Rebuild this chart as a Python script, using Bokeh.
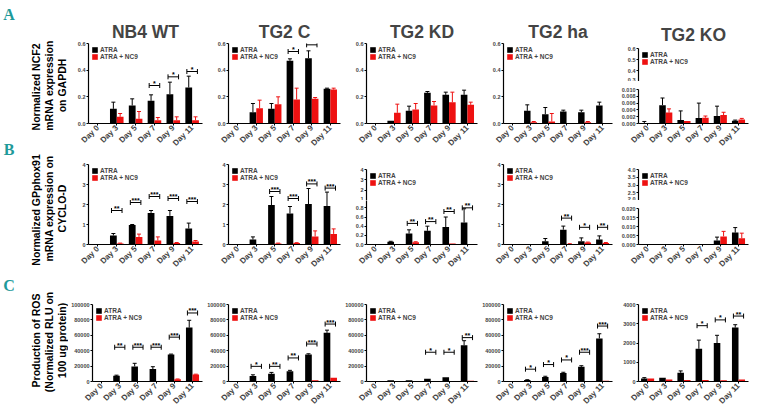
import numpy as np
from math import pi
from bokeh.plotting import figure
from bokeh.layouts import row, column
from bokeh.models import Range1d, FixedTicker, ColumnDataSource, Legend, LegendItem, PrintfTickFormatter
from bokeh.core.properties import value
from bokeh.embed import file_html
from bokeh.resources import INLINE

FONT = "Liberation Sans"
BLACK = "#000000"
RED = "#ee1111"
TEAL = "#1f9a9a"

days = ["Day 0", "Day 3", "Day 5", "Day 7", "Day 9", "Day 11"]
titles = ["NB4 WT", "TG2 C", "TG2 KD", "TG2 ha", "TG2 KO"]
legend_labels = ["ATRA", "ATRA + NC9"]

# ---------------- Row A : NCF2 ----------------
a_wt_atra = [0.002, 0.11, 0.135, 0.17, 0.22, 0.27]
a_wt_atra_err = [0, 0.05, 0.05, 0.045, 0.09, 0.085]
a_wt_nc9 = [0.001, 0.05, 0.035, 0.025, 0.025, 0.025]
a_wt_nc9_err = [0, 0.025, 0.055, 0.02, 0.025, 0.025]
a_wt_sig_day = [3, 4, 5]
a_wt_sig_y = [0.285, 0.35, 0.39]
a_wt_sig_txt = ["*", "*", "*"]

a_c_atra = [0.002, 0.085, 0.11, 0.47, 0.49, 0.26]
a_c_atra_err = [0, 0.065, 0.04, 0.015, 0.055, 0.005]
a_c_nc9 = [0.003, 0.115, 0.145, 0.18, 0.185, 0.255]
a_c_nc9_err = [0, 0.06, 0.055, 0.085, 0.01, 0.01]
a_c_sig_day = [3, 4]
a_c_sig_y = [0.54, 0.59]
a_c_sig_txt = ["*", "*"]

a_kd_atra = [0.001, 0.02, 0.095, 0.23, 0.215, 0.215]
a_kd_atra_err = [0, 0, 0.035, 0.01, 0.02, 0.035]
a_kd_nc9 = [0.002, 0.08, 0.105, 0.135, 0.16, 0.14]
a_kd_nc9_err = [0, 0.065, 0.045, 0.03, 0.075, 0.02]

a_ha_atra = [0.002, 0.095, 0.07, 0.09, 0.085, 0.135]
a_ha_atra_err = [0, 0.045, 0.05, 0.01, 0.015, 0.025]
a_ha_nc9 = [0.0, 0.01, 0.015, 0.002, 0.01, 0.002]
a_ha_nc9_err = [0, 0.005, 0.06, 0, 0.005, 0]

a_ko_atra = [0.0001, 0.0054, 0.001, 0.0016, 0.0022, 0.0008]
a_ko_atra_err = [0.0005, 0.0021, 0.0027, 0.0044, 0.0029, 0.0002]
a_ko_nc9 = [0.0, 0.0032, 0.0007, 0.0017, 0.0025, 0.0012]
a_ko_nc9_err = [0, 0.0011, 0, 0.0005, 0.0008, 0.0003]

# ---------------- Row B : GPphox91 ----------------
b_wt_atra = [0, 0.45, 0.97, 1.58, 1.43, 0.8]
b_wt_atra_err = [0, 0.1, 0.03, 0.12, 0.27, 0.27]
b_wt_nc9 = [0, 0.05, 0.38, 0.2, 0.08, 0.15]
b_wt_nc9_err = [0, 0.02, 0.14, 0.18, 0.02, 0.05]
b_wt_sig_day = [1, 2, 3, 4, 5]
b_wt_sig_y = [1.7, 2.1, 2.4, 2.3, 2.15]
b_wt_sig_txt = ["**", "***", "***", "***", "***"]

b_c_atra = [0, 0.25, 1.97, 1.55, 2.02, 1.92]
b_c_atra_err = [0, 0.13, 0.43, 0.35, 0.78, 0.7]
b_c_nc9 = [0, 0.02, 0.05, 0.07, 0.4, 0.53]
b_c_nc9_err = [0, 0, 0.02, 0.02, 0.28, 0.25]
b_c_sig_day = [2, 3, 4, 5]
b_c_sig_y = [2.65, 2.3, 3.03, 2.82]
b_c_sig_txt = ["***", "***", "***", "***"]

b_kd_atra = [0, 0.06, 0.24, 0.3, 0.38, 0.48]
b_kd_atra_err = [0, 0.01, 0.08, 0.1, 0.22, 0.3]
b_kd_nc9 = [0, 0.002, 0.05, 0.01, 0.02, 0.005]
b_kd_nc9_err = [0, 0, 0.01, 0, 0, 0]
b_kd_sig_day = [2, 3, 4, 5]
b_kd_sig_y = [0.46, 0.5, 0.72, 0.8]
b_kd_sig_txt = ["**", "**", "**", "**"]

b_ha_atra = [0, 0.02, 0.16, 0.74, 0.16, 0.25]
b_ha_atra_err = [0, 0, 0.14, 0.18, 0.17, 0.18]
b_ha_nc9 = [0, 0, 0, 0.03, 0.1, 0.08]
b_ha_nc9_err = [0, 0, 0, 0.01, 0.02, 0.02]
b_ha_sig_day = [3, 4, 5]
b_ha_sig_y = [1.32, 0.86, 0.86]
b_ha_sig_txt = ["**", "*", "**"]

b_ko_atra = [0, 0.0001, 0, 0.0002, 0.0022, 0.0066]
b_ko_atra_err = [0, 0, 0, 0, 0.0019, 0.0028]
b_ko_nc9 = [0, 0, 0, 0, 0.0045, 0.0035]
b_ko_nc9_err = [0, 0, 0, 0, 0.0028, 0.0028]

# ---------------- Row C : ROS ----------------
c_wt_atra = [500, 7400, 19600, 16200, 35000, 70000]
c_wt_atra_err = [0, 800, 4000, 3000, 600, 9500]
c_wt_nc9 = [0, 0, 0, 0, 3000, 9200]
c_wt_nc9_err = [0, 0, 0, 0, 300, 300]
c_wt_sig_day = [1, 2, 3, 4, 5]
c_wt_sig_y = [44500, 44500, 44500, 57600, 89000]
c_wt_sig_txt = ["**", "***", "***", "***", "***"]

c_c_atra = [600, 7000, 10000, 13200, 35100, 63200]
c_c_atra_err = [0, 1700, 1800, 1300, 900, 3500]
c_c_nc9 = [0, 0, 0, 0, 1500, 5000]
c_c_nc9_err = [0, 0, 0, 0, 0, 0]
c_c_sig_day = [1, 2, 3, 4, 5]
c_c_sig_y = [19700, 19700, 30600, 48700, 74600]
c_c_sig_txt = ["*", "**", "**", "***", "***"]

c_kd_atra = [800, 1500, 1500, 3500, 5500, 47000]
c_kd_atra_err = [0, 0, 0, 0, 0, 6000]
c_kd_nc9 = [300, 300, 300, 300, 300, 1000]
c_kd_nc9_err = [0, 0, 0, 0, 0, 0]
c_kd_sig_day = [3, 4, 5]
c_kd_sig_y = [38000, 38000, 57000]
c_kd_sig_txt = ["*", "*", "**"]

c_ha_atra = [500, 2000, 6000, 11000, 19000, 56000]
c_ha_atra_err = [0, 300, 800, 1000, 1500, 6000]
c_ha_nc9 = [0, 0, 0, 0, 0, 1000]
c_ha_nc9_err = [0, 0, 0, 0, 0, 0]
c_ha_sig_day = [1, 2, 3, 4, 5]
c_ha_sig_y = [16000, 22000, 28000, 38000, 72000]
c_ha_sig_txt = ["*", "*", "*", "***", "***"]

c_ko_atra = [150, 200, 450, 1700, 2000, 2800]
c_ko_atra_err = [50, 0, 100, 450, 400, 150]
c_ko_nc9 = [150, 100, 80, 80, 60, 100]
c_ko_nc9_err = [0, 0, 0, 0, 0, 0]
c_ko_sig_day = [3, 4, 5]
c_ko_sig_y = [2900, 3200, 3400]
c_ko_sig_txt = ["*", "*", "**"]

ylabels_a = ["Normalized  NCF2", "mRNA expression", "on GAPDH"]
ylabels_b = ["Normalized  GPphox91", "mRNA expression on", "CYCLO-D"]
ylabels_c = ["Production of ROS", "(Normalized  RLU on", "100 ug protein)"]
row_letters = ["A", "B", "C"]


def style_axis(ax, size):
    ax.axis_line_color = "black"
    ax.axis_line_width = 1.2
    ax.major_tick_line_color = "black"
    ax.major_tick_out = 2
    ax.major_tick_in = 0
    ax.minor_tick_line_color = None
    ax.major_label_text_font = FONT
    ax.major_label_text_font_style = "bold"
    ax.major_label_text_font_size = size
    ax.major_label_standoff = 1


def panel(width, height, left, top, bottom, yr, yticks, fmt, data, sig=None,
          title=None, title_standoff=3, xaxis=True, legend=True):
    p = figure(width=width, height=height, x_range=Range1d(-0.5, 5.55),
               y_range=Range1d(*yr), output_backend="svg", toolbar_location=None,
               min_border_left=left, min_border_right=2, min_border_top=top,
               min_border_bottom=bottom,
               x_axis_location="below" if xaxis else None)
    p.outline_line_color = None
    p.xgrid.visible = False
    p.ygrid.visible = False
    if title:
        p.title.text = title
        p.title.align = "center"
        p.title.text_font = FONT
        p.title.text_font_style = "bold"
        p.title.text_font_size = "17.5px"
        p.title.standoff = title_standoff
    atra, atra_err, nc9, nc9_err = data
    x = np.arange(len(days))
    rends = []
    for off, vals, errs, col in [(-0.18, atra, atra_err, BLACK), (0.18, nc9, nc9_err, RED)]:
        xp = x + off
        vals = np.array(vals, dtype=float)
        errs = np.array(errs, dtype=float)
        src = ColumnDataSource(dict(x=xp, top=vals))
        r = p.vbar(x="x", top="top", bottom=0, width=0.36, source=src,
                   fill_color=col, line_color=None)
        m = errs > 0
        esrc = ColumnDataSource(dict(x=xp[m], y0=vals[m], y1=(vals + errs)[m]))
        p.segment(x0="x", y0="y0", x1="x", y1="y1", source=esrc, line_color=col, line_width=1)
        p.scatter(x="x", y="y1", source=esrc, marker="dash", size=4, line_color=col, line_width=1)
        rends.append(r)
    if sig is not None:
        sd, sy, st = sig
        sd = np.array(sd, dtype=float)
        s = ColumnDataSource(dict(x0=sd - 0.28, x1=sd + 0.28, xc=sd, y=sy, t=st))
        p.segment(x0="x0", y0="y", x1="x1", y1="y", source=s, line_color="black", line_width=1)
        for k in ("x0", "x1"):
            p.scatter(x=k, y="y", source=s, marker="dash", angle=pi / 2, size=5,
                      line_color="black", line_width=1)
        p.text(x="xc", y="y", text="t", source=s, text_font=value(FONT),
               text_font_style="bold", text_font_size="7px", text_align="center",
               text_baseline="bottom", y_offset=1.5, text_color="black")
    p.yaxis.ticker = FixedTicker(ticks=yticks)
    p.yaxis.formatter = PrintfTickFormatter(format=fmt)
    style_axis(p.yaxis[0], "5.5px")
    if xaxis:
        p.xaxis.ticker = FixedTicker(ticks=list(range(len(days))))
        p.xaxis.major_label_overrides = {i: d for i, d in enumerate(days)}
        p.xaxis.major_label_orientation = pi / 4
        style_axis(p.xaxis[0], "8px")
    if legend:
        lg = Legend(items=[LegendItem(label=legend_labels[0], renderers=[rends[0]]),
                           LegendItem(label=legend_labels[1], renderers=[rends[1]])],
                    location="top_left")
        lg.label_text_font = FONT
        lg.label_text_font_style = "bold"
        lg.label_text_font_size = "6.5px"
        lg.glyph_width = 7
        lg.glyph_height = 7
        lg.label_height = 7
        lg.label_standoff = 2
        lg.spacing = 0
        lg.padding = 0
        lg.margin = 3
        lg.background_fill_alpha = 0
        lg.border_line_color = None
        p.add_layout(lg)
    return p


W0 = 68
H = 415
widths = [136, 138, 137, 135, 136]
lefts = [20, 24, 24, 24, 24]

# ---- left strip: row letters and y-axis titles (data coords: x = page x, y = -page y)
lab = figure(width=W0, height=H, x_range=Range1d(0, W0), y_range=Range1d(-H, 0),
             output_backend="svg", toolbar_location=None, min_border=0,
             x_axis_location=None, y_axis_location=None)
lab.outline_line_color = None
lab.xgrid.visible = False
lab.ygrid.visible = False
lab.text(x=[8.5, 8.5, 8.5], y=[-14, -149, -285], text=row_letters,
         text_font=value("Liberation Sans Narrow"), text_font_style="bold",
         text_font_size="16px", text_color=TEAL, text_align="center", text_baseline="middle")
for lines, xs, yc in [(ylabels_a, [35, 48, 61], 85),
                      (ylabels_b, [35, 48, 61], 208),
                      (ylabels_c, [35, 48, 61], 340)]:
    lab.text(x=xs, y=[-yc] * 3, text=lines, angle=pi / 2,
             text_font=value(FONT), text_font_style="bold", text_font_size="10.5px",
             text_color="black", text_align="center", text_baseline="middle")

# Row A  (page y 0..155, frame 43..123)
a_tick = [0, 0.2, 0.4, 0.6]
pa = [
    panel(widths[0], 155, lefts[0], 43, 32, (0, 0.6), a_tick, "%.1f",
          (a_wt_atra, a_wt_atra_err, a_wt_nc9, a_wt_nc9_err),
          (a_wt_sig_day, a_wt_sig_y, a_wt_sig_txt), title=titles[0]),
    panel(widths[1], 155, lefts[1], 43, 32, (0, 0.6), a_tick, "%.1f",
          (a_c_atra, a_c_atra_err, a_c_nc9, a_c_nc9_err),
          (a_c_sig_day, a_c_sig_y, a_c_sig_txt), title=titles[1]),
    panel(widths[2], 155, lefts[2], 43, 32, (0, 0.6), a_tick, "%.1f",
          (a_kd_atra, a_kd_atra_err, a_kd_nc9, a_kd_nc9_err), title=titles[2]),
    panel(widths[3], 155, lefts[3], 43, 32, (0, 0.6), a_tick, "%.1f",
          (a_ha_atra, a_ha_atra_err, a_ha_nc9, a_ha_nc9_err), title=titles[3]),
]
a_ko_data = (a_ko_atra, a_ko_atra_err, a_ko_nc9, a_ko_nc9_err)
pa5 = column(
    panel(widths[4], 81, lefts[4], 48, 0, (0.3, 0.6), [0.3, 0.4, 0.5, 0.6], "%.1f",
          a_ko_data, title=titles[4], title_standoff=8, xaxis=False),
    panel(widths[4], 74, lefts[4], 8, 32, (0, 0.010),
          [0, 0.002, 0.004, 0.006, 0.008, 0.010], "%.3f", a_ko_data, legend=False),
)
row_a = row(*pa, pa5)

# Row B  (page y 155..290, frame 164..244)
b_tick = [0, 1, 2, 3, 4]
b_kd_data = (b_kd_atra, b_kd_atra_err, b_kd_nc9, b_kd_nc9_err)
b_ko_data = (b_ko_atra, b_ko_atra_err, b_ko_nc9, b_ko_nc9_err)
pb = [
    panel(widths[0], 135, lefts[0], 9, 46, (0, 4), b_tick, "%d",
          (b_wt_atra, b_wt_atra_err, b_wt_nc9, b_wt_nc9_err),
          (b_wt_sig_day, b_wt_sig_y, b_wt_sig_txt)),
    panel(widths[1], 135, lefts[1], 9, 46, (0, 4), b_tick, "%d",
          (b_c_atra, b_c_atra_err, b_c_nc9, b_c_nc9_err),
          (b_c_sig_day, b_c_sig_y, b_c_sig_txt)),
    column(
        panel(widths[2], 45, lefts[2], 14, 0, (1, 4), [1, 2, 3, 4], "%d",
              b_kd_data, xaxis=False),
        panel(widths[2], 90, lefts[2], 0, 46, (0, 0.96), [0, 0.2, 0.4, 0.6, 0.8], "%.1f",
              b_kd_data, (b_kd_sig_day, b_kd_sig_y, b_kd_sig_txt), legend=False),
    ),
    panel(widths[3], 135, lefts[3], 9, 46, (0, 4), b_tick, "%d",
          (b_ha_atra, b_ha_atra_err, b_ha_nc9, b_ha_nc9_err),
          (b_ha_sig_day, b_ha_sig_y, b_ha_sig_txt)),
    column(
        panel(widths[4], 45, lefts[4], 14, 0, (2, 4), [2, 2.5, 3, 3.5, 4], "%.1f",
              b_ko_data, xaxis=False),
        panel(widths[4], 90, lefts[4], 8, 46, (0, 0.02),
              [0, 0.005, 0.01, 0.015, 0.02], "%.3f", b_ko_data, legend=False),
    ),
]
row_b = row(*pb)

# Row C  (page y 290..415, frame 304..381)
c_tick = [0, 20000, 40000, 60000, 80000, 100000]
pc = [
    panel(widths[0], 125, lefts[0], 14, 34, (0, 100000), c_tick, "%d",
          (c_wt_atra, c_wt_atra_err, c_wt_nc9, c_wt_nc9_err),
          (c_wt_sig_day, c_wt_sig_y, c_wt_sig_txt)),
    panel(widths[1], 125, lefts[1], 14, 34, (0, 100000), c_tick, "%d",
          (c_c_atra, c_c_atra_err, c_c_nc9, c_c_nc9_err),
          (c_c_sig_day, c_c_sig_y, c_c_sig_txt)),
    panel(widths[2], 125, lefts[2], 14, 34, (0, 100000), c_tick, "%d",
          (c_kd_atra, c_kd_atra_err, c_kd_nc9, c_kd_nc9_err),
          (c_kd_sig_day, c_kd_sig_y, c_kd_sig_txt)),
    panel(widths[3], 125, lefts[3], 14, 34, (0, 100000), c_tick, "%d",
          (c_ha_atra, c_ha_atra_err, c_ha_nc9, c_ha_nc9_err),
          (c_ha_sig_day, c_ha_sig_y, c_ha_sig_txt)),
    panel(widths[4], 125, lefts[4], 14, 34, (0, 4000), [0, 1000, 2000, 3000, 4000], "%d",
          (c_ko_atra, c_ko_atra_err, c_ko_nc9, c_ko_nc9_err),
          (c_ko_sig_day, c_ko_sig_y, c_ko_sig_txt)),
]
row_c = row(*pc)

layout = row(lab, column(row_a, row_b, row_c))
open("out.html", "w").write(file_html(layout, INLINE))
